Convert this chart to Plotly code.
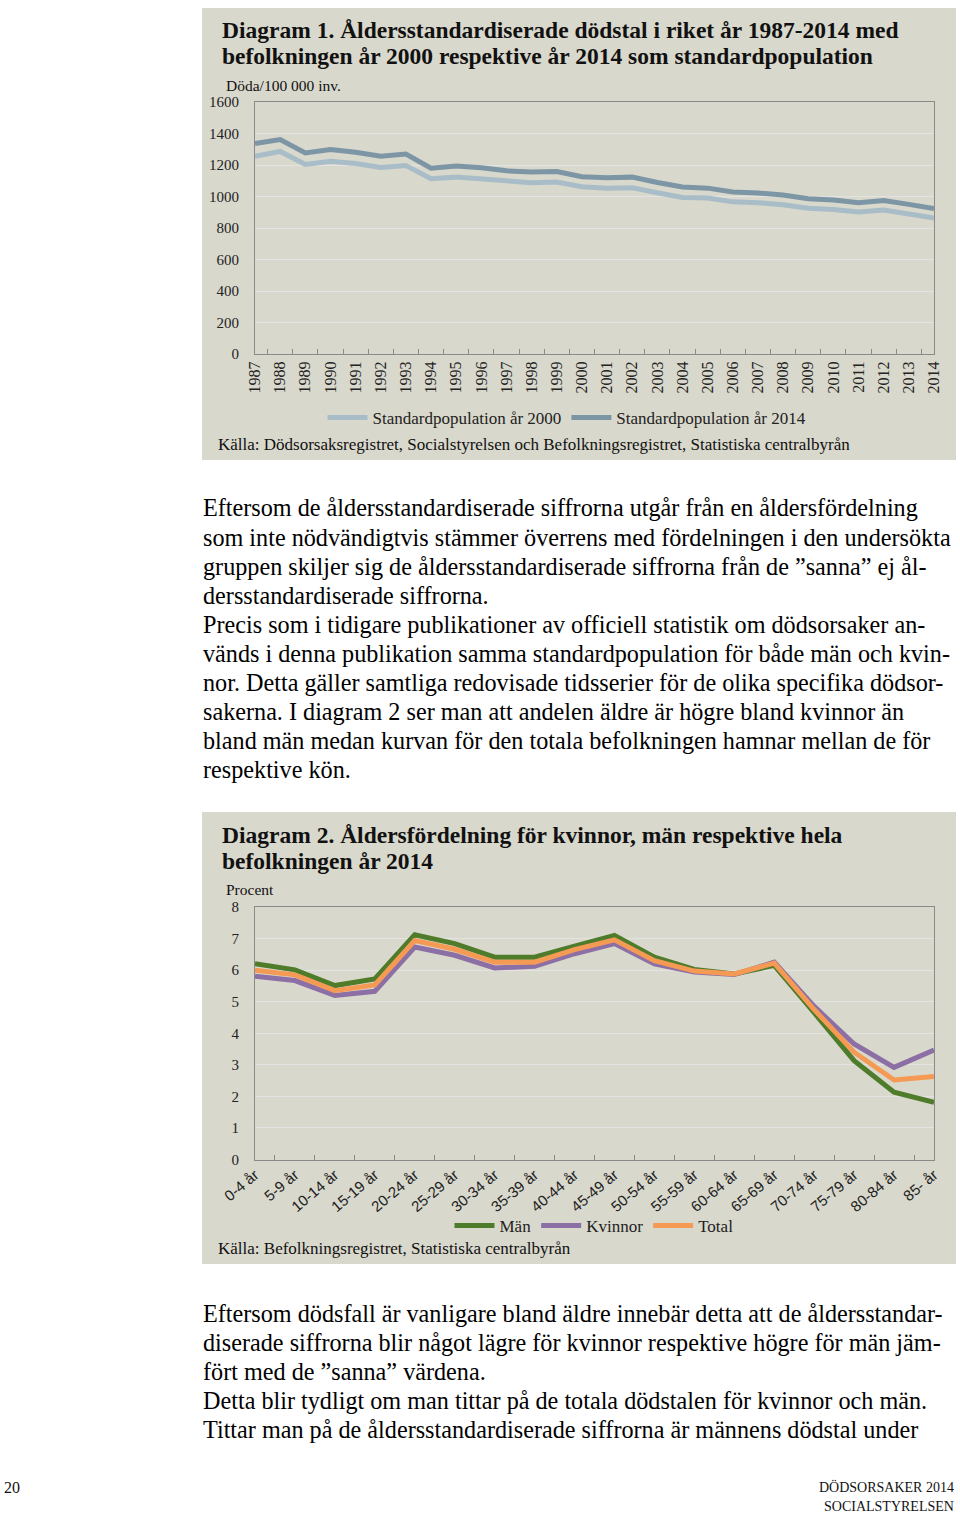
import plotly.graph_objects as go

W, H = 960, 1515

# ---------------- data ----------------
years = [str(y) for y in range(1987, 2015)]
std2000 = [1256, 1286, 1203, 1224, 1210, 1184, 1197, 1113, 1123, 1113, 1096, 1088, 1092, 1062,
           1053, 1056, 1024, 994, 990, 966, 961, 948, 925, 918, 902, 914, 889, 864]
std2014 = [1336, 1362, 1277, 1298, 1281, 1256, 1269, 1180, 1193, 1182, 1163, 1155, 1159, 1125,
           1119, 1123, 1089, 1060, 1053, 1028, 1022, 1009, 986, 978, 961, 975, 950, 923]

ages = ["0-4 år", "5-9 år", "10-14 år", "15-19 år", "20-24 år", "25-29 år", "30-34 år", "35-39 år",
        "40-44 år", "45-49 år", "50-54 år", "55-59 år", "60-64 år", "65-69 år", "70-74 år",
        "75-79 år", "80-84 år", "85- år"]
man = [6.20, 6.01, 5.51, 5.72, 7.12, 6.84, 6.41, 6.41, 6.76, 7.10, 6.41, 6.02, 5.88, 6.15, 4.65,
       3.13, 2.13, 1.81]
kvinnor = [5.81, 5.67, 5.20, 5.33, 6.73, 6.47, 6.07, 6.12, 6.52, 6.84, 6.20, 5.94, 5.86, 6.25, 4.85,
           3.66, 2.92, 3.47]
total = [6.00, 5.85, 5.35, 5.53, 6.94, 6.66, 6.25, 6.25, 6.65, 6.96, 6.30, 5.97, 5.88, 6.22, 4.75,
         3.40, 2.52, 2.63]

body1 = [
    "Eftersom de åldersstandardiserade siffrorna utgår från en åldersfördelning",
    "som inte nödvändigtvis stämmer överrens med fördelningen i den undersökta",
    "gruppen skiljer sig de åldersstandardiserade siffrorna från de ”sanna” ej ål-",
    "dersstandardiserade siffrorna.",
    "Precis som i tidigare publikationer av officiell statistik om dödsorsaker an-",
    "vänds i denna publikation samma standardpopulation för både män och kvin-",
    "nor. Detta gäller samtliga redovisade tidsserier för de olika specifika dödsor-",
    "sakerna. I diagram 2 ser man att andelen äldre är högre bland kvinnor än",
    "bland män medan kurvan för den totala befolkningen hamnar mellan de för",
    "respektive kön.",
]
body2 = [
    "Eftersom dödsfall är vanligare bland äldre innebär detta att de åldersstandar-",
    "diserade siffrorna blir något lägre för kvinnor respektive högre för män jäm-",
    "fört med de ”sanna” värdena.",
    "Detta blir tydligt om man tittar på de totala dödstalen för kvinnor och män.",
    "Tittar man på de åldersstandardiserade siffrorna är männens dödstal under",
]

SERIF = "Liberation Serif"
SANS = "Liberation Sans"
BOX = "#D9D8CC"


def px(x):
    return x / W


def py(y):
    return 1 - y / H


fig = go.Figure()

fig.add_trace(go.Scatter(x=years, y=std2000, mode="lines", name="Standardpopulation år 2000",
                         line=dict(color="#A9BDC9", width=5), xaxis="x", yaxis="y", legend="legend"))
fig.add_trace(go.Scatter(x=years, y=std2014, mode="lines", name="Standardpopulation år 2014",
                         line=dict(color="#7C96A6", width=5), xaxis="x", yaxis="y", legend="legend"))

fig.add_trace(go.Scatter(x=ages, y=man, mode="lines", name="Män",
                         line=dict(color="#4F7C2A", width=5), xaxis="x2", yaxis="y2", legend="legend2"))
fig.add_trace(go.Scatter(x=ages, y=kvinnor, mode="lines", name="Kvinnor",
                         line=dict(color="#8B6FA5", width=5), xaxis="x2", yaxis="y2", legend="legend2"))
fig.add_trace(go.Scatter(x=ages, y=total, mode="lines", name="Total",
                         line=dict(color="#F59A55", width=5), xaxis="x2", yaxis="y2", legend="legend2"))

xdom = [px(255), px(934)]
axis_common = dict(showline=True, linecolor="#8A8A8A", linewidth=1, mirror=True, automargin=False)

shapes = [
    dict(type="rect", xref="paper", yref="paper", x0=px(202), x1=px(956), y0=py(460), y1=py(8),
         fillcolor=BOX, line=dict(width=0), layer="below"),
    dict(type="rect", xref="paper", yref="paper", x0=px(202), x1=px(956), y0=py(1264), y1=py(812),
         fillcolor=BOX, line=dict(width=0), layer="below"),
]

ann = []


def text(x, y, s, size, anchor="left", font=SERIF, color="#111", bold=False):
    if bold:
        s = "<b>" + s + "</b>"
    ann.append(dict(x=px(x), y=py(y), xref="paper", yref="paper", text=s, showarrow=False,
                    xanchor=anchor, yanchor="middle", font=dict(family=font, size=size, color=color)))


text(220, 30, "Diagram 1. Åldersstandardiserade dödstal i riket år 1987-2014 med", 23.5, bold=True)
text(220, 56, "befolkningen år 2000 respektive år 2014 som standardpopulation", 23.5, bold=True)
text(224, 85, "Döda/100 000 inv.", 15.5)
text(216, 444, "Källa: Dödsorsaksregistret, Socialstyrelsen och Befolkningsregistret, Statistiska centralbyrån", 17)

for i, line in enumerate(body1):
    text(201, 508 + i * 29.1, line, 24.2, color="#000")

text(220, 835, "Diagram 2. Åldersfördelning för kvinnor, män respektive hela", 23.5, bold=True)
text(220, 861, "befolkningen år 2014", 23.5, bold=True)
text(224, 889, "Procent", 15.5)
text(216, 1248, "Källa: Befolkningsregistret, Statistiska centralbyrån", 17)

for i, line in enumerate(body2):
    text(201, 1313 + i * 29.1, line, 24.2, color="#000")

text(2, 1487, "20", 16)
text(956, 1487, "DÖDSORSAKER 2014", 14, anchor="right")
text(956, 1506, "SOCIALSTYRELSEN", 14, anchor="right")

fig.update_layout(
    template="none",
    width=W, height=H,
    margin=dict(l=0, r=0, t=0, b=0, pad=0, autoexpand=False),
    paper_bgcolor="white",
    plot_bgcolor="white",
    shapes=shapes,
    annotations=ann,
    xaxis=dict(domain=xdom, anchor="y", type="category", tickangle=-90,
               ticks="inside", tickson="boundaries", ticklen=5, tickcolor="#8A8A8A",
               tickfont=dict(family=SERIF, size=16, color="#222"), showgrid=False, **axis_common),
    yaxis=dict(domain=[py(354), py(102)], anchor="x", range=[0, 1600], dtick=200,
               showgrid=True, gridcolor="#E3E3E3", ticks="", ticklabelstandoff=12,
               tickfont=dict(family=SERIF, size=15, color="#222"), zeroline=False, **axis_common),
    xaxis2=dict(domain=xdom, anchor="y2", type="category", tickangle=-40,
                ticks="inside", tickson="boundaries", ticklen=5, tickcolor="#8A8A8A",
                tickfont=dict(family=SANS, size=15, color="#222"), showgrid=False, **axis_common),
    yaxis2=dict(domain=[py(1159.5), py(907)], anchor="x2", range=[0, 8], dtick=1,
                showgrid=True, gridcolor="#E3E3E3", ticks="", ticklabelstandoff=12,
                tickfont=dict(family=SERIF, size=15, color="#222"), zeroline=False, **axis_common),
    legend=dict(orientation="h", x=px(567), y=py(418), xanchor="center", yanchor="middle",
                bgcolor="rgba(0,0,0,0)", font=dict(family=SERIF, size=17, color="#222"),
                itemwidth=40, tracegroupgap=0),
    legend2=dict(orientation="h", x=px(594), y=py(1226), xanchor="center", yanchor="middle",
                 bgcolor="rgba(0,0,0,0)", font=dict(family=SERIF, size=17, color="#222"),
                 itemwidth=40, tracegroupgap=0),
    showlegend=True,
)

fig.write_html("out.html")
